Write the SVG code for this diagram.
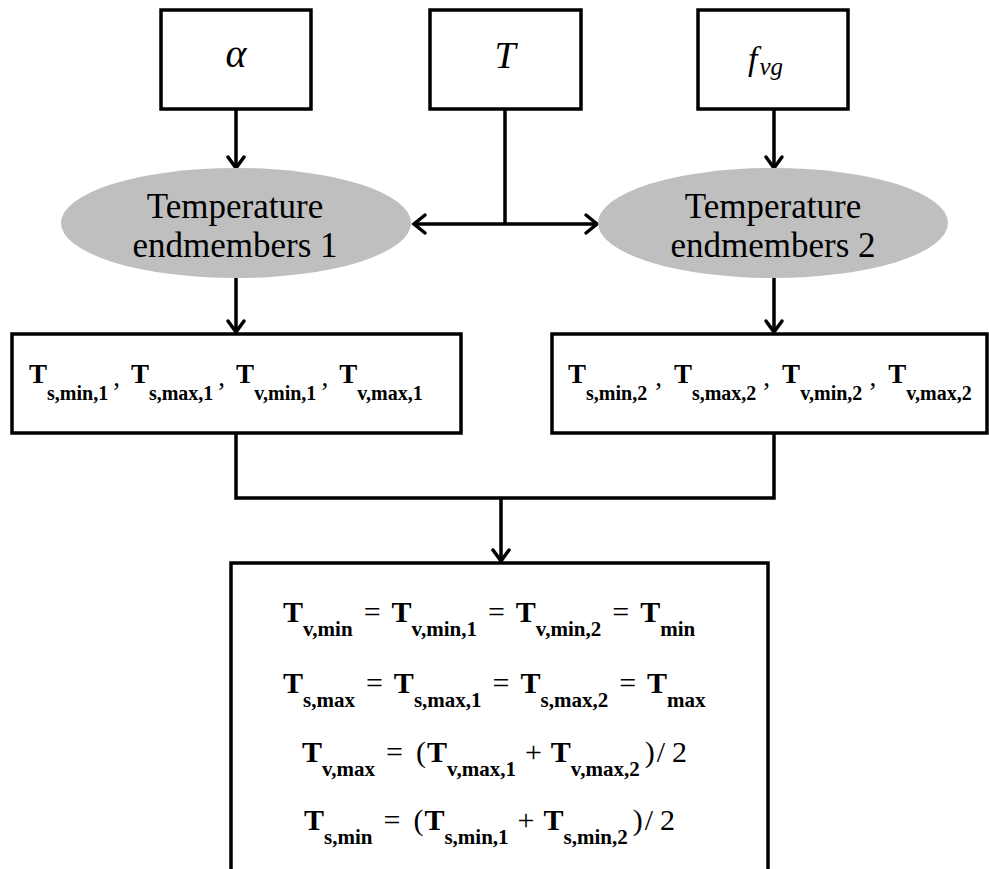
<svg xmlns="http://www.w3.org/2000/svg" width="989" height="869" viewBox="0 0 989 869">
<style>
.box{fill:#fff;stroke:#000;stroke-width:3.5}
.ell{fill:#bfbfbf;stroke:none}
.con{fill:none;stroke:#000;stroke-width:3.5}
.ah{fill:none;stroke:#000;stroke-width:3.5;stroke-linecap:round;stroke-linejoin:miter}
text{font-family:'Liberation Serif','Times New Roman','DejaVu Serif',serif;fill:#000}
.it{font-style:italic}
.lbl{font-size:35px;text-anchor:middle}
.row{font-size:27px}
.eq{font-size:30px}
.b{font-weight:bold}
.s20{font-weight:bold;font-size:20px}
.s21{font-weight:bold;font-size:21px}
</style>
<rect width="989" height="869" fill="#fff"/>
<g id="connectors">
  <line class="con" x1="236" y1="110" x2="236" y2="168"/>
  <path class="ah" d="M228,157 L236,168 L244,157"/>
  <line class="con" x1="774" y1="110" x2="774" y2="168"/>
  <path class="ah" d="M766,157 L774,168 L782,157"/>
  <line class="con" x1="505" y1="110" x2="505" y2="224"/>
  <line class="con" x1="414" y1="224" x2="597" y2="224"/>
  <path class="ah" d="M425,215 L414,224 L425,233"/>
  <path class="ah" d="M586,215 L597,224 L586,233"/>
  <line class="con" x1="236" y1="278" x2="236" y2="332"/>
  <path class="ah" d="M228,321 L236,332 L244,321"/>
  <line class="con" x1="774" y1="278" x2="774" y2="332"/>
  <path class="ah" d="M766,321 L774,332 L782,321"/>
  <path class="con" d="M236,433 L236,498 L774,498 L774,433"/>
  <line class="con" x1="501" y1="498" x2="501" y2="561"/>
  <path class="ah" d="M493,550 L501,561 L509,550"/>
</g>
<g id="node-alpha">
  <rect class="box" x="161" y="10" width="150" height="99"/>
  <text class="it" x="236" y="67" font-size="40" text-anchor="middle">α</text>
</g>
<g id="node-T">
  <rect class="box" x="430" y="10" width="151" height="99"/>
  <text class="it" x="505" y="68" font-size="38" text-anchor="middle">T</text>
</g>
<g id="node-fvg">
  <rect class="box" x="698" y="10" width="150" height="99"/>
  <text class="it" x="748" y="70" font-size="34">f<tspan font-size="25" dx="2" dy="5">vg</tspan></text>
</g>
<g id="node-end1">
  <ellipse class="ell" cx="236" cy="223" rx="175" ry="55"/>
  <text class="lbl" x="235" y="218">Temperature</text>
  <text class="lbl" x="235" y="257">endmembers 1</text>
</g>
<g id="node-end2">
  <ellipse class="ell" cx="773" cy="223" rx="175" ry="55"/>
  <text class="lbl" x="773" y="218">Temperature</text>
  <text class="lbl" x="773" y="257">endmembers 2</text>
</g>
<g id="node-set1">
  <rect class="box" x="12" y="334" width="449" height="99"/>
  <text class="row" x="29" y="383"><tspan class="b">T</tspan><tspan class="s20" dy="17">s,min,1</tspan><tspan dx="5" dy="-14">,</tspan><tspan class="b" dx="11" dy="-3">T</tspan><tspan class="s20" dy="17">s,max,1</tspan><tspan dx="5" dy="-14">,</tspan><tspan class="b" dx="11" dy="-3">T</tspan><tspan class="s20" dy="17">v,min,1</tspan><tspan dx="5" dy="-14">,</tspan><tspan class="b" dx="11" dy="-3">T</tspan><tspan class="s20" dy="17">v,max,1</tspan></text>
</g>
<g id="node-set2">
  <rect class="box" x="552" y="334" width="435" height="99"/>
  <text class="row" x="568" y="383"><tspan class="b">T</tspan><tspan class="s20" dy="17">s,min,2</tspan><tspan dx="8" dy="-14">,</tspan><tspan class="b" dx="12" dy="-3">T</tspan><tspan class="s20" dy="17">s,max,2</tspan><tspan dx="7" dy="-14">,</tspan><tspan class="b" dx="12" dy="-3">T</tspan><tspan class="s20" dy="17">v,min,2</tspan><tspan dx="7" dy="-14">,</tspan><tspan class="b" dx="12" dy="-3">T</tspan><tspan class="s20" dy="17">v,max,2</tspan></text>
</g>
<g id="node-result">
  <rect class="box" x="231" y="563" width="537" height="330"/>
  <text class="eq" x="283" y="622"><tspan class="b">T</tspan><tspan class="s21" dy="14">v,min</tspan><tspan dx="11" dy="-14">=</tspan><tspan class="b" dx="11">T</tspan><tspan class="s21" dy="14">v,min,1</tspan><tspan dx="11" dy="-14">=</tspan><tspan class="b" dx="11">T</tspan><tspan class="s21" dy="14">v,min,2</tspan><tspan dx="11" dy="-14">=</tspan><tspan class="b" dx="11">T</tspan><tspan class="s21" dy="14">min</tspan></text>
  <text class="eq" x="283" y="693"><tspan class="b">T</tspan><tspan class="s21" dy="14">s,max</tspan><tspan dx="11" dy="-14">=</tspan><tspan class="b" dx="11">T</tspan><tspan class="s21" dy="14">s,max,1</tspan><tspan dx="11" dy="-14">=</tspan><tspan class="b" dx="11">T</tspan><tspan class="s21" dy="14">s,max,2</tspan><tspan dx="11" dy="-14">=</tspan><tspan class="b" dx="11">T</tspan><tspan class="s21" dy="14">max</tspan></text>
  <text class="eq" x="302" y="762"><tspan class="b">T</tspan><tspan class="s21" dy="14">v,max</tspan><tspan dx="11" dy="-14">=</tspan><tspan dx="13">(</tspan><tspan class="b" dx="1">T</tspan><tspan class="s21" dy="14">v,max,1</tspan><tspan dx="9" dy="-14">+</tspan><tspan class="b" dx="9">T</tspan><tspan class="s21" dy="14">v,max,2</tspan><tspan dx="5" dy="-14">)</tspan><tspan dx="2">/</tspan><tspan dx="7">2</tspan></text>
  <text class="eq" x="304" y="830"><tspan class="b">T</tspan><tspan class="s21" dy="14">s,min</tspan><tspan dx="11" dy="-14">=</tspan><tspan dx="13">(</tspan><tspan class="b" dx="1">T</tspan><tspan class="s21" dy="14">s,min,1</tspan><tspan dx="9" dy="-14">+</tspan><tspan class="b" dx="9">T</tspan><tspan class="s21" dy="14">s,min,2</tspan><tspan dx="5" dy="-14">)</tspan><tspan dx="2">/</tspan><tspan dx="7">2</tspan></text>
</g>
</svg>
